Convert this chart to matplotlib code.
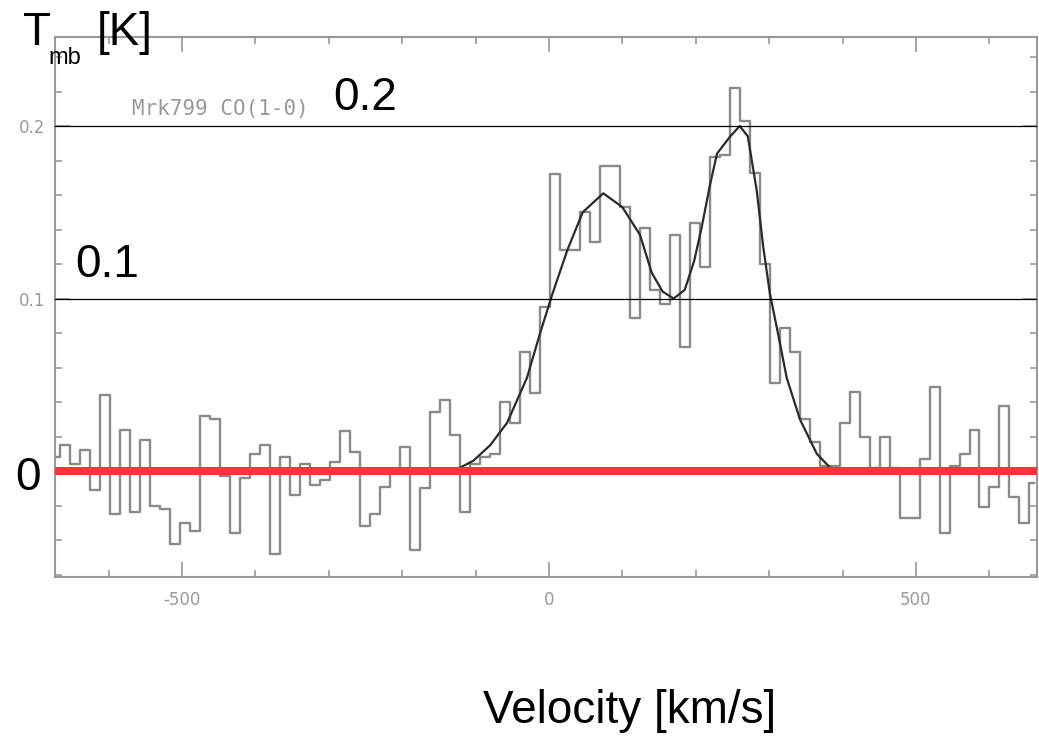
import numpy as np
import matplotlib.pyplot as plt
from matplotlib.ticker import MultipleLocator, FuncFormatter

plt.rcParams['axes.unicode_minus'] = False

# Mrk799 CO(1-0): main-beam temperature per channel [K]
tmb = [0.008, 0.015, 0.004, 0.012, -0.011, 0.044, -0.025, 0.024, -0.024, 0.018,
       -0.020, -0.022, -0.042, -0.030, -0.035, 0.032, 0.030, -0.003, -0.036, -0.004,
       0.010, 0.015, -0.048, 0.008, -0.014, 0.004, -0.008, -0.005, 0.005, 0.023,
       0.011, -0.032, -0.025, -0.009, 0.001, 0.014, -0.046, -0.010, 0.034, 0.041,
       0.021, -0.024, 0.004, 0.008, 0.010, 0.040, 0.028, 0.069, 0.045, 0.095,
       0.172, 0.128, 0.128, 0.150, 0.133, 0.177, 0.177, 0.153, 0.089, 0.141,
       0.105, 0.097, 0.137, 0.072, 0.144, 0.118, 0.182, 0.183, 0.222, 0.203,
       0.173, 0.120, 0.051, 0.083, 0.069, 0.030, 0.017, 0.003, 0.003, 0.028,
       0.046, 0.020, 0.002, 0.020, 0.002, -0.027, -0.027, 0.007, 0.049, -0.036,
       0.003, 0.010, 0.024, -0.021, -0.009, 0.038, -0.015, -0.030, -0.007]

# regular channel grid (km/s)
v_first = -673.2
dv = 13.62
velocity = v_first + dv * np.arange(len(tmb))

# double-peaked fit curve
fit_v = [-150, -135, -121, -103, -80, -57, -30, -12, 5, 25, 46, 74, 100, 124, 140,
         155, 170, 185, 198, 208, 219, 229, 247, 260, 271, 283, 292, 301, 312, 324,
         342, 365, 383, 400]
fit_t = [0.0, 0.0, 0.002, 0.006, 0.015, 0.028, 0.054, 0.080, 0.103, 0.128, 0.150,
         0.161, 0.153, 0.137, 0.115, 0.104, 0.100, 0.105, 0.122, 0.141, 0.165, 0.184,
         0.194, 0.200, 0.194, 0.163, 0.130, 0.103, 0.080, 0.054, 0.030, 0.010, 0.002,
         0.0]

# marked levels
levels = [0.2, 0.1]
level_labels = ['0.2', '0.1', '0']

W, H = 1039, 739


def px(x, y):
    return x / W, 1 - y / H


def ylab(v, p):
    # the scan's own "0" label is hidden under the big hand-written 0
    return '' if abs(v) < 1e-9 else f'{v:g}'


fig = plt.figure(figsize=(W / 100, H / 100), dpi=100)
ax = fig.add_axes([55 / W, 1 - 577 / H, (1037 - 55) / W, (577 - 37) / H])

ax.step(velocity, tmb, where='mid', color='#8a8a8a', lw=1.7, zorder=2)
ax.plot(fit_v, fit_t, color='#2a2a2a', lw=1.6, zorder=3)

for lv in levels:
    ax.axhline(lv, color='black', lw=0.9, zorder=4)
ax.axhline(0, color='#ff3333', lw=5.8, zorder=5)

ax.set_xlim(-673, 665)
ax.set_ylim(-0.0614, 0.2516)

ax.xaxis.set_major_locator(MultipleLocator(500))
ax.xaxis.set_minor_locator(MultipleLocator(100))
ax.yaxis.set_major_locator(MultipleLocator(0.1))
ax.yaxis.set_minor_locator(MultipleLocator(0.02))
ax.yaxis.set_major_formatter(FuncFormatter(ylab))

for s in ax.spines.values():
    s.set_color('#9a9a9a')
    s.set_linewidth(1.5)
ax.tick_params(which='both', direction='in', top=True, right=True,
               color='#9a9a9a', labelcolor='#999999', labelsize=12, width=1.2)
ax.tick_params(which='major', length=11)
ax.tick_params(which='minor', length=5)
ax.tick_params(axis='x', pad=10)
ax.tick_params(axis='y', pad=7)

ax.text(0.078, 0.867, 'Mrk799 CO(1-0)', transform=ax.transAxes, fontsize=15,
        family='DejaVu Sans Mono', color='#999999', va='center')

# hand-written annotations on top of the scan
big = dict(fontsize=33, family='Liberation Sans', color='black', va='baseline')
fig.text(*px(23, 45), 'T', **big)
fig.text(*px(48, 64), 'mb', fontsize=17, family='Liberation Sans', color='black',
         va='baseline')
fig.text(*px(97, 45), '[K]', **big)
fig.text(*px(333, 110), level_labels[0], **big)
fig.text(*px(75, 277), level_labels[1], **big)
fig.text(*px(15, 490), level_labels[2], **big)
fig.text(*px(483, 723), 'Velocity [km/s]', **big)

fig.savefig('out.png', dpi=100)
